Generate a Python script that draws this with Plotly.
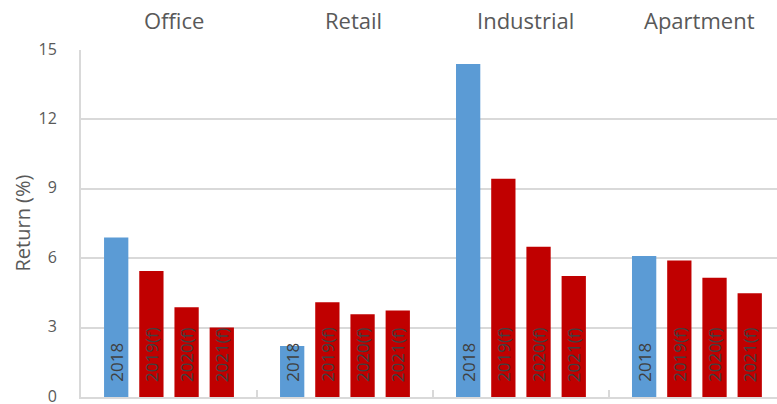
import plotly.graph_objects as go

# Property sectors and the forecast years shown for each
sectors = ["Office", "Retail", "Industrial", "Apartment"]
years = ["2018", "2019(f)", "2020(f)", "2021(f)"]

# Total return (%) by sector, one list per year
ret_2018 = [6.9, 2.2, 14.4, 6.1]
ret_2019f = [5.45, 4.1, 9.43, 5.9]
ret_2020f = [3.88, 3.58, 6.5, 5.16]
ret_2021f = [3.0, 3.74, 5.23, 4.48]

series = [ret_2018, ret_2019f, ret_2020f, ret_2021f]
bar_colors = ["#5B9BD5", "#C00000", "#C00000", "#C00000"]

FONT = "Open Sans"
GRID = "#D9D9D9"
LABEL = "#595959"

# Group layout on a numeric axis: sector i sits at x = i,
# its four year-slots share 80% of the unit width.
group_span = 0.8
slot = group_span / len(years)
bar_width = slot * 0.69
group_x = list(range(len(sectors)))

# small horizontal nudges (px) for the sector headings
heading_nudge = [5, 9, 5, 3]

fig = go.Figure()
for j, (year, vals, col) in enumerate(zip(years, series, bar_colors)):
    xs = [i + (j - (len(years) - 1) / 2) * slot for i in group_x]
    fig.add_trace(go.Bar(
        x=xs,
        y=vals,
        width=bar_width,
        name=year,
        marker=dict(color=col, line=dict(width=0)),
        showlegend=False,
    ))
    # Year label written upward from the base of every bar
    for x in xs:
        fig.add_annotation(
            x=x, y=0, xref="x", yref="y",
            xanchor="center", yanchor="bottom", yshift=13,
            textangle=-90, showarrow=False,
            text=year, font=dict(family=FONT, size=17, color="#404040"),
        )

# Sector names across the top of each group
for i, s, dx in zip(group_x, sectors, heading_nudge):
    fig.add_annotation(
        x=i, xref="x", y=1, yref="paper",
        yanchor="middle", yshift=30, xshift=dx, showarrow=False,
        text=s, font=dict(family=FONT, size=22, color=LABEL),
    )

# Vertical axis title
fig.add_annotation(
    x=0, xref="paper", xshift=-59, xanchor="center",
    y=0.5, yref="paper", yanchor="middle",
    showarrow=False, textangle=-90,
    text="Return (%)", font=dict(family=FONT, size=20, color=LABEL),
)

fig.update_layout(
    width=777, height=404,
    margin=dict(l=81, r=0, t=50, b=7),
    paper_bgcolor="white", plot_bgcolor="white",
    barmode="overlay",
    font=dict(family=FONT, color=LABEL),
)
fig.update_xaxes(
    range=[-0.5, 3.455], automargin=False,
    tickvals=[i + 0.5 for i in group_x[:-1]],
    showticklabels=False,
    showline=True, linecolor=GRID, linewidth=2,
    ticks="inside", ticklen=7, tickcolor=GRID, tickwidth=2,
    showgrid=False, zeroline=False,
)
fig.update_yaxes(
    range=[0, 15], dtick=3, automargin=False,
    showgrid=True, gridcolor=GRID, gridwidth=1.5,
    showline=True, linecolor=GRID, linewidth=2,
    zeroline=False,
    ticks="", ticklabelstandoff=19, ticklabeloverflow="allow",
    ticklabelshift=-1,
    tickfont=dict(family=FONT, size=16, color=LABEL),
)

fig.write_html("out.html")
